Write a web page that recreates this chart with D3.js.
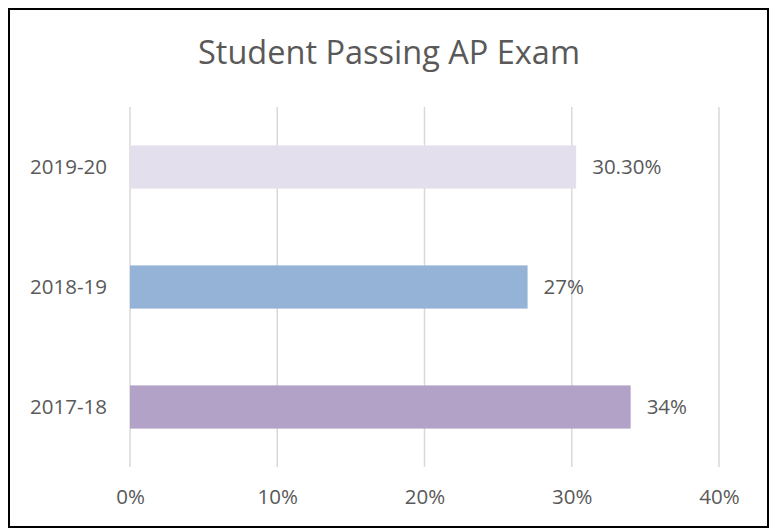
<!DOCTYPE html>
<html>
<head>
<meta charset="utf-8">
<script src="https://cdn.jsdelivr.net/npm/d3@7"></script>
<style>
  html, body { margin: 0; padding: 0; background: #fff; }
  svg { display: block; }
  text { font-family: "Open Sans", "Noto Sans", sans-serif; fill: #595959; }
</style>
</head>
<body>
<svg id="chart" width="775" height="529"></svg>
<script>
// Share of students passing the AP exam, by school year
const years = ["2019-20", "2018-19", "2017-18"];
const passRates = [30.3, 27, 34];
const valueLabels = ["30.30%", "27%", "34%"];
const barColors = ["#E4DFEC", "#95B3D7", "#B3A2C7"];
const xTicks = [0, 10, 20, 30, 40];

const svg = d3.select("#chart");

// outer frame
svg.append("rect")
  .attr("x", 9).attr("y", 9).attr("width", 759).attr("height", 518)
  .attr("fill", "#fff").attr("stroke", "#000").attr("stroke-width", 2);

svg.append("text")
  .attr("x", 389).attr("y", 64)
  .attr("text-anchor", "middle")
  .style("font-size", "32.5px")
  .text("Student Passing AP Exam");

const x = d3.scaleLinear().domain([0, 40]).range([130, 719]);
const y = d3.scaleBand().domain(years).range([107, 467]).paddingInner(0.64).paddingOuter(0.32);

// vertical gridlines
svg.append("g").selectAll("line").data(xTicks).join("line")
  .attr("x1", d => x(d)).attr("x2", d => x(d))
  .attr("y1", 107).attr("y2", 467)
  .attr("stroke", "#D9D9D9").attr("stroke-width", 1.5);

// x tick labels
const xAxis = d3.axisBottom(x).tickValues(xTicks).tickFormat(d => d + "%").tickSize(0).tickPadding(0);
const gx = svg.append("g").attr("transform", "translate(0,504)").call(xAxis);
gx.select(".domain").remove();
gx.selectAll("text").attr("dy", 0).style("font-size", "20.5px").style("font-family", null).attr("fill", null);

// category labels
const yAxis = d3.axisLeft(y).tickSize(0).tickPadding(0);
const gy = svg.append("g").attr("transform", "translate(107,0)").call(yAxis);
gy.select(".domain").remove();
gy.selectAll("text").style("font-size", "20.5px").style("font-family", null).attr("fill", null);

// bars
svg.append("g").selectAll("rect").data(years).join("rect")
  .attr("x", x(0))
  .attr("y", d => y(d))
  .attr("width", (d, i) => x(passRates[i]) - x(0))
  .attr("height", y.bandwidth())
  .attr("fill", (d, i) => barColors[i]);

// value labels
svg.append("g").selectAll("text").data(years).join("text")
  .attr("x", (d, i) => x(passRates[i]) + 16)
  .attr("y", d => y(d) + y.bandwidth() / 2)
  .attr("dy", "0.35em")
  .style("font-size", "20.5px")
  .text((d, i) => valueLabels[i]);
</script>
</body>
</html>
